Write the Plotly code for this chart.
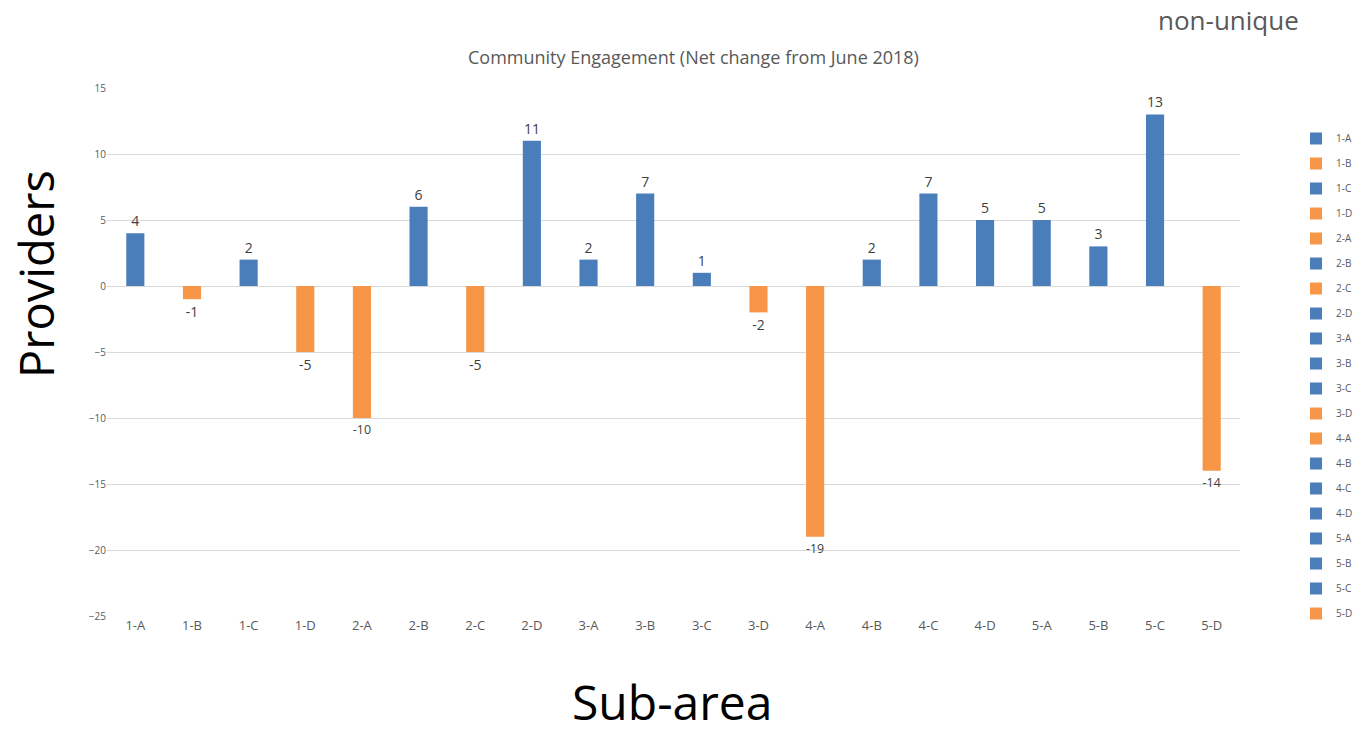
import plotly.graph_objects as go

categories = ["1-A","1-B","1-C","1-D","2-A","2-B","2-C","2-D","3-A","3-B",
              "3-C","3-D","4-A","4-B","4-C","4-D","5-A","5-B","5-C","5-D"]
values = [4, -1, 2, -5, -10, 6, -5, 11, 2, 7, 1, -2, -19, 2, 7, 5, 5, 3, 13, -14]
y_ticks = [-25, -20, -15, -10, -5, 0, 5, 10, 15]

BLUE = "#4a7ebb"
ORANGE = "#f79646"

L, R, T, B = 107, 1240, 88, 616
PW, PH = R - L, B - T

def px(x):
    return (x - L) / PW

def py(y):
    return (B - y) / PH

fig = go.Figure()
for c, v in zip(categories, values):
    col = BLUE if v >= 0 else ORANGE
    fig.add_trace(go.Bar(
        x=[c], y=[v], name=c, legendgroup=c,
        marker=dict(color=col, line=dict(width=0)),
        width=0.32,
        text=[str(v)], textposition="outside",
        textfont=dict(size=14, color="#404040", family="Open Sans"),
        cliponaxis=False,
    ))

fig.update_layout(
    width=1359, height=738,
    barmode="overlay",
    paper_bgcolor="white", plot_bgcolor="white",
    margin=dict(l=L, r=1359 - R, t=T, b=738 - B, autoexpand=False),
    font=dict(family="Open Sans", color="#595959"),
    showlegend=True,
    legend=dict(x=px(1296), y=py(124), xanchor="left", yanchor="top",
                font=dict(size=10, color="#595959"),
                tracegroupgap=6, itemwidth=30,
                bgcolor="rgba(0,0,0,0)"),
    xaxis=dict(categoryorder="array", categoryarray=categories,
               range=[-0.5, 19.5], showgrid=False, showline=False,
               ticks="", tickfont=dict(size=13, color="#595959")),
    yaxis=dict(range=[-25, 15], tickvals=y_ticks, showgrid=True,
               gridcolor="#d9d9d9", gridwidth=1, zeroline=True,
               zerolinecolor="#d9d9d9", zerolinewidth=1,
               tickfont=dict(size=10, color="#595959"), ticks="",
               showline=False),
    annotations=[
        dict(text="Community Engagement (Net change from June 2018)",
             x=px(693), y=py(57), xref="paper", yref="paper", showarrow=False,
             xanchor="center", yanchor="middle",
             font=dict(size=18, color="#595959")),
        dict(text="Providers", x=px(2), y=py(274), xref="paper", yref="paper",
             textangle=-90, showarrow=False, xanchor="left", yanchor="middle",
             font=dict(size=47, color="black")),
        dict(text="Sub-area", x=px(672), y=py(736), xref="paper", yref="paper",
             showarrow=False, xanchor="center", yanchor="bottom",
             font=dict(size=48, color="black")),
        dict(text="non-unique", x=px(1228), y=py(20), xref="paper", yref="paper",
             showarrow=False, xanchor="center", yanchor="middle",
             font=dict(size=26, color="#595959")),
    ],
)
fig.write_html("out.html", config={"displayModeBar": False},
               post_script="document.body.style.margin='0';")
